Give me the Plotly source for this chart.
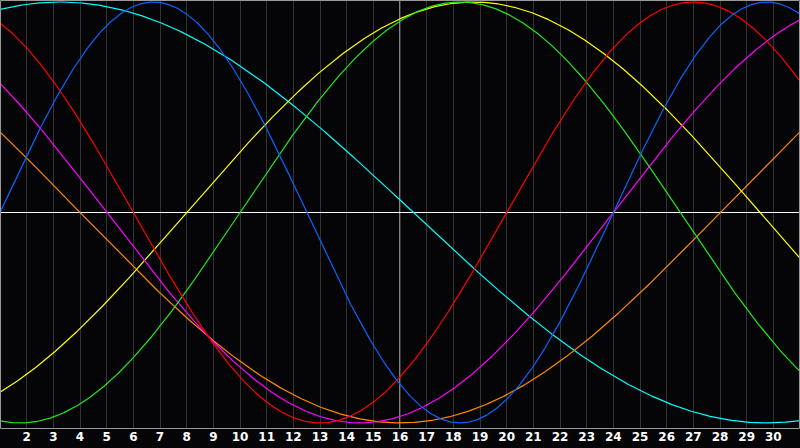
import numpy as np
import plotly.graph_objects as go

# Biorhythm cycles (period in days) and days-since-birth on day 1 of the chart
cycle_names = ["Physical", "Emotional", "Intellectual", "Intuitive", "Aesthetic", "Awareness", "Spiritual"]
periods = [23, 28, 33, 38, 43, 48, 53]
phase_day1 = [0, 9, 24, 15, 36, 21, 11]
colors = ["#0a64ff", "#ff0000", "#22e61e", "#ff00ff", "#ffff00", "#ff8a00", "#00ffff"]

days = list(range(1, 32))
tick_days = list(range(2, 31))
tick_labels = [str(d) for d in tick_days]
today = 16

BG = "#050508"
t = np.linspace(1, 31, 1201)

fig = go.Figure()
order = [6, 5, 4, 3, 2, 1, 0]
for i in order:
    y = np.sin(2 * np.pi * (t - 1 + phase_day1[i]) / periods[i])
    fig.add_trace(go.Scatter(x=t, y=y, mode="lines", name=cycle_names[i],
                             line=dict(color=colors[i], width=1.2), hoverinfo="skip"))

fig.add_shape(type="line", xref="x", yref="paper", x0=today, x1=today, y0=0, y1=1,
              line=dict(color="#ffffff", width=1), layer="between")
# frame
fig.add_shape(type="rect", xref="paper", yref="paper",
              x0=0.5 / 800, x1=1 - 0.5 / 800, y0=-0.5 / 428, y1=1 - 0.5 / 428,
              line=dict(color="#9a9a9a", width=1), layer="above")

fig.update_layout(
    width=800, height=448,
    margin=dict(l=0, r=0, t=0, b=20),
    paper_bgcolor=BG, plot_bgcolor=BG,
    showlegend=False,
    xaxis=dict(range=[1, 31], tickvals=tick_days, ticktext=tick_labels,
               showgrid=True, gridcolor="#333333", gridwidth=1, zeroline=False,
               showline=False, ticks="", fixedrange=True,
               tickfont=dict(color="#ffffff", size=12, family="DejaVu Sans", weight="bold")),
    yaxis=dict(range=[-1.024, 1.0095], showgrid=False, showticklabels=False,
               zeroline=True, zerolinecolor="#ffffff", zerolinewidth=1, ticks="",
               fixedrange=True),
)

fig.write_html("out.html", config={"displayModeBar": False},
               post_script="document.body.style.margin='0px';document.body.style.background='" + BG + "';")
